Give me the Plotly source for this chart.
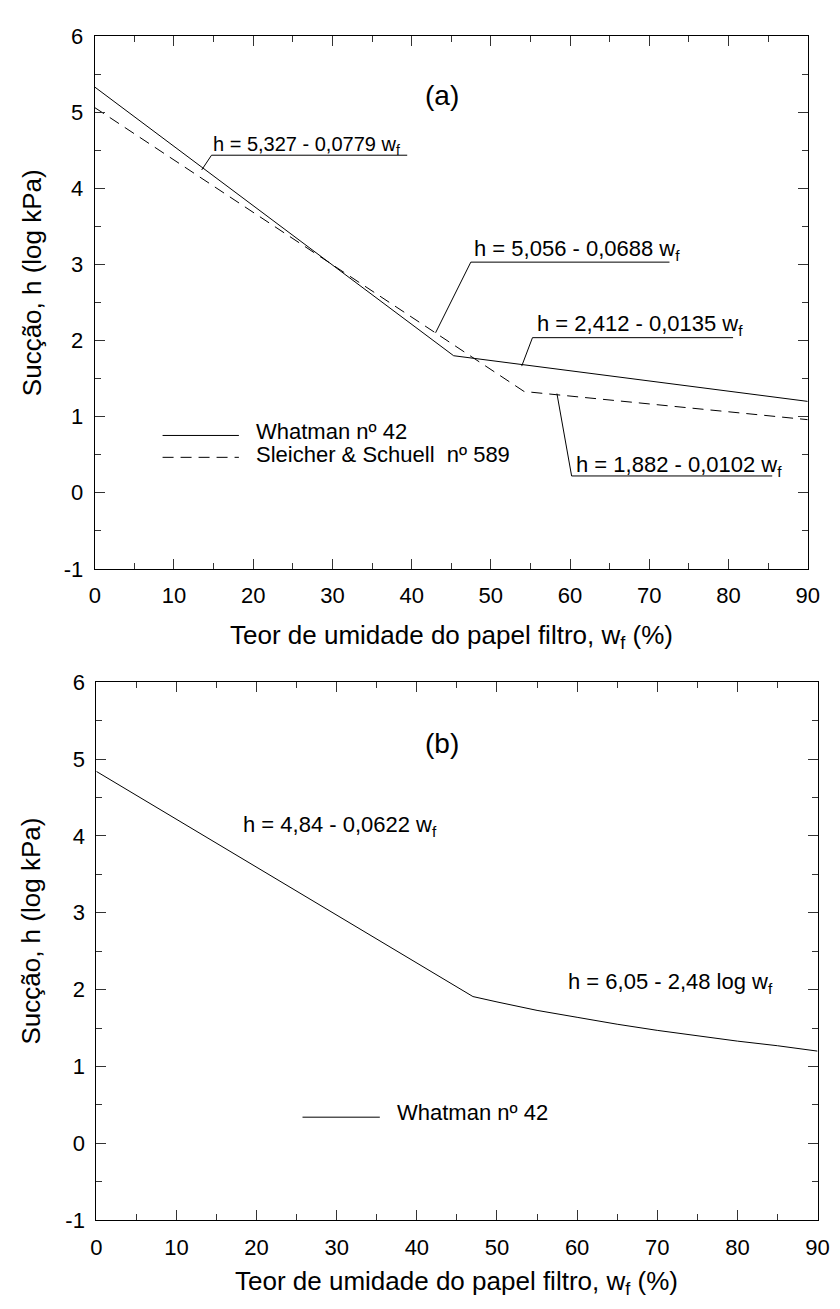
import plotly.graph_objects as go

# ---- data ----
# panel (a)
whatman_a_w = [0, 45.3, 90]
whatman_a_h = [5.33, 1.80, 1.20]
ss_a_w = [0, 54.2, 90]
ss_a_h = [5.06, 1.33, 0.96]
# panel (b)
whatman_b_w = [0, 47, 50, 55, 60, 65, 70, 75, 80, 85, 90]
whatman_b_h = [4.84, 1.91, 1.84, 1.73, 1.64, 1.55, 1.47, 1.40, 1.33, 1.27, 1.20]

x_tick_vals = [0, 10, 20, 30, 40, 50, 60, 70, 80, 90]
x_tick_text = ["0", "10", "20", "30", "40", "50", "60", "70", "80", "90"]
y_tick_vals = [-1, 0, 1, 2, 3, 4, 5, 6]
y_tick_text = ["-1", "0", "1", "2", "3", "4", "5", "6"]
x_range = [0, 90]
y_range = [-1, 6]

W, H = 840, 1309
FONT = "Liberation Sans, Arial, sans-serif"
DASH = "11px,7px"

# pixel geometry of the two plot areas
A = dict(l=90.7, r=819.3, t=24.5, b=567.7)
B = dict(l=92.3, r=829.3, t=683.3, b=1231.7)

fig = go.Figure()
line = dict(color="black", width=1)
fig.add_trace(go.Scatter(x=whatman_a_w, y=whatman_a_h, mode="lines", line=line,
                         xaxis="x", yaxis="y", name="Whatman nº 42"))
fig.add_trace(go.Scatter(x=ss_a_w, y=ss_a_h, mode="lines",
                         line=dict(color="black", width=1, dash=DASH),
                         xaxis="x", yaxis="y", name="Sleicher & Schuell nº 589"))
fig.add_trace(go.Scatter(x=whatman_b_w, y=whatman_b_h, mode="lines", line=line,
                         xaxis="x2", yaxis="y2", name="Whatman nº 42"))

TICKC = "#333"


def axis(dom, anchor, rng, vals, text, mdtick, standoff):
    return dict(
        domain=dom, anchor=anchor, range=rng, tickmode="array", tickvals=vals, ticktext=text,
        ticks="inside", ticklen=10, tickwidth=1, tickcolor=TICKC,
        minor=dict(dtick=mdtick, tick0=0, ticks="inside", ticklen=6, tickwidth=1,
                   tickcolor=TICKC),
        showline=True, linecolor="black", linewidth=1, mirror="ticks",
        showgrid=False, zeroline=False, ticklabelstandoff=standoff,
        tickfont=dict(family=FONT, size=22, color="black"),
    )


xa = axis([A["l"] / W, A["r"] / W], "y", x_range, x_tick_vals, x_tick_text, 5, 7)
ya = axis([1 - A["b"] / H, 1 - A["t"] / H], "x", y_range, y_tick_vals, y_tick_text, 0.5, 6)
xb = axis([B["l"] / W, B["r"] / W], "y2", x_range, x_tick_vals, x_tick_text, 5, 7)
yb = axis([1 - B["b"] / H, 1 - B["t"] / H], "x2", y_range, y_tick_vals, y_tick_text, 0.5, 6)

fig.update_layout(
    width=W, height=H, margin=dict(l=0, r=0, t=0, b=0),
    paper_bgcolor="white", plot_bgcolor="white", showlegend=False,
    xaxis=xa, yaxis=ya, xaxis2=xb, yaxis2=yb,
    font=dict(family=FONT, color="black", size=22),
)

annotations = []
shapes = []


def label(px, py, text, size, xanchor="left", angle=0):
    annotations.append(dict(x=px / W, y=1 - py / H, xref="paper", yref="paper", text=text,
                            showarrow=False, xanchor=xanchor, yanchor="middle",
                            textangle=angle,
                            font=dict(family=FONT, size=size, color="black")))


def seg(x0, y0, x1, y1, dash="solid"):
    shapes.append(dict(type="line", xref="paper", yref="paper",
                       x0=x0 / W, y0=1 - y0 / H, x1=x1 / W, y1=1 - y1 / H,
                       line=dict(color="black", width=1, dash=dash)))


XT = "Teor de umidade do papel filtro, w<sub>f</sub> (%)"
YT = "Sucção, h (log kPa)"
TS = 26

# axis titles
label((A["l"] + A["r"]) / 2, 637, XT, TS, "center")
label(26, 276, YT, TS, "center", -90)
label((B["l"] + B["r"]) / 2, 1295, XT, TS, "center")
label(26, 937, YT, TS, "center", -90)

# panel (a)
label(446, 85, "(a)", 28, "center")
label(209, 136, "h = 5,327 - 0,0779 w<sub>f</sub>", 20)
seg(210, 146, 410, 146)
seg(210, 146, 200, 161)
label(476, 243, "h = 5,056 - 0,0688 w<sub>f</sub>", 22)
seg(475, 255, 678, 255)
seg(475, 255, 439, 327)
label(541, 319, "h = 2,412 - 0,0135 w<sub>f</sub>", 22)
seg(538, 332, 743, 332)
seg(538, 332, 527, 361)
label(580, 463, "h = 1,882 - 0,0102 w<sub>f</sub>", 22)
seg(578, 473, 783, 473)
seg(578, 473, 563, 389)
# legend (a)
seg(160, 431.7, 238, 431.7)
label(253, 428, "Whatman nº 42", 22)
seg(160, 454, 238, 454, dash=DASH)
label(253, 451, "Sleicher &amp; Schuell  nº 589", 22)

# panel (b)
label(446, 746, "(b)", 28, "center")
label(240, 830, "h = 4,84 - 0,0622 w<sub>f</sub>", 22)
label(572, 990, "h = 6,05 - 2,48 log w<sub>f</sub>", 22)
seg(303, 1126.7, 382, 1126.7)
label(398, 1122, "Whatman nº 42", 22)

fig.update_layout(annotations=annotations, shapes=shapes)
fig.write_html("out.html", config={"displayModeBar": False},
               post_script="document.body.style.margin='0';document.body.style.overflow='hidden';")
